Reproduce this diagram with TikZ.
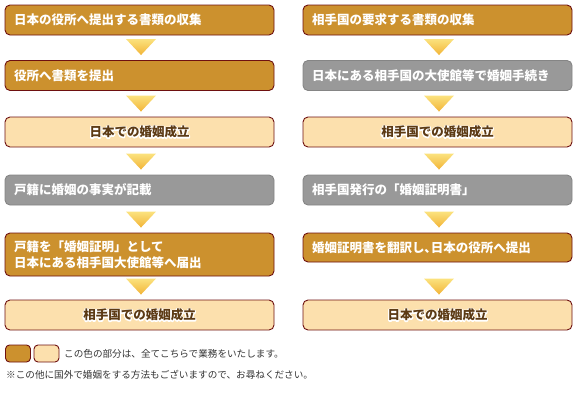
\documentclass[tikz,border=0pt]{standalone}
\usepackage{fontspec}
\setmainfont{Noto Sans CJK JP}
\definecolor{goldc}{HTML}{CC912E}
\definecolor{maroonc}{HTML}{6E1010}
\definecolor{lightc}{HTML}{FCE0AD}
\definecolor{grayc}{HTML}{999999}
\definecolor{grayb}{HTML}{858585}
\definecolor{browntxt}{HTML}{5C3A14}
\definecolor{legtxt}{HTML}{333333}
\definecolor{arrtop}{HTML}{FBE27E}
\definecolor{arrbot}{HTML}{F2B437}
\newcommand\halo[1]{\leavevmode
  \rlap{\color{white}\special{pdf:literal 1 Tr 2.2 w 1 j}#1\special{pdf:literal 0 Tr}}#1}
\tikzset{
  x=1pt, y=-1pt,
  boxbase/.style={rectangle, rounded corners=5pt, line width=0.9pt, minimum width=269pt,
    inner sep=0pt, font=\fontsize{12.5}{16}\selectfont\bfseries},
  goldbox/.style={boxbase, draw=maroonc, fill=goldc, text=white, text width=251pt, align=left},
  graybox/.style={boxbase, draw=grayb, fill=grayc, text=white, text width=251pt, align=left},
  lightbox/.style={boxbase, draw=maroonc, fill=lightc, text=browntxt, text width=251pt, align=center},
  swatch/.style={rectangle, rounded corners=4pt, line width=0.9pt, draw=maroonc, minimum width=25pt, minimum height=17pt, inner sep=0pt},
  arrowshade/.style={top color=arrtop, bottom color=arrbot},
  legend/.style={font=\fontsize{9.6}{12}\selectfont, text=legtxt, inner sep=0pt, anchor=west}
}
\newcommand\flowarrow[1]{%
  \shade[arrowshade] ($(#1.north)+(-13.5,-21)$) -- ($(#1.north)+(16.5,-21)$) -- ($(#1.north)+(1.5,-5)$) -- cycle;}
\usetikzlibrary{calc}
\begin{document}
\begin{tikzpicture}
\useasboundingbox (0,0) rectangle (578,407);
% left column
\node[goldbox, minimum height=30pt] (L1) at (139.5,20) {日本の役所へ提出する書類の収集};
\node[goldbox, minimum height=30pt] (L2) at (139.5,75.5) {役所へ書類を提出};
\node[lightbox, minimum height=30pt] (L3) at (139.5,132) {\halo{日本での婚姻成立}};
\node[graybox, minimum height=30pt] (L4) at (139.5,190) {戸籍に婚姻の事実が記載};
\node[goldbox, minimum height=43pt, font=\fontsize{12.5}{15.5}\selectfont\bfseries] (L5) at (139.5,254.5) {戸籍を「婚姻証明」として\\日本にある相手国大使館等へ届出};
\node[lightbox, minimum height=30pt] (L6) at (139.5,315) {\halo{相手国での婚姻成立}};
% right column
\node[goldbox, minimum height=30pt] (R1) at (437.5,20) {相手国の要求する書類の収集};
\node[graybox, minimum height=30pt] (R2) at (437.5,75.5) {日本にある相手国の大使館等で婚姻手続き};
\node[lightbox, minimum height=30pt] (R3) at (437.5,132) {\halo{相手国での婚姻成立}};
\node[graybox, minimum height=30pt] (R4) at (437.5,190) {相手国発行の「婚姻証明書」};
\node[goldbox, minimum height=29pt] (R5) at (437.5,247.5) {婚姻証明書を翻訳し､日本の役所へ提出};
\node[lightbox, minimum height=30pt] (R6) at (437.5,315) {\halo{日本での婚姻成立}};
% arrows
\flowarrow{L2}\flowarrow{L3}\flowarrow{L4}\flowarrow{L5}\flowarrow{L6}
\flowarrow{R2}\flowarrow{R3}\flowarrow{R4}\flowarrow{R5}\flowarrow{R6}
% legend
\node[swatch, fill=goldc] (S1) at (18,353.5) {};
\node[swatch, fill=lightc] (S2) at (46.5,353.5) {};
\node[legend] (T1) at (64,354) {この色の部分は、全てこちらで業務をいたします。};
\node[legend] (T2) at (6,374.5) {※この他に国外で婚姻をする方法もございますので、お尋ねください。};
\end{tikzpicture}
\end{document}
